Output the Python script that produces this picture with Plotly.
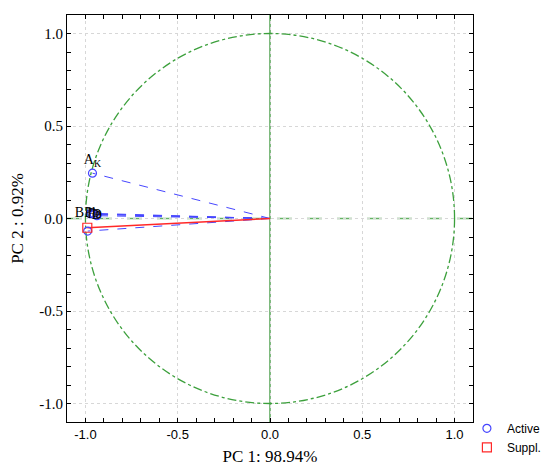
import plotly.graph_objects as go

# Active variables (PC1 loading, PC2 loading, label)
active_x = [-0.962, -0.975, -0.965, -0.952, -0.938, -0.988]
active_y = [0.245, 0.025, 0.028, 0.022, 0.015, -0.068]
active_labels = ["A<sub>K</sub>", "B", "Pb", "Fe", "D", None]
active_textpos = ["top center", "middle left", "middle center", "middle center",
                  "middle center", "top left"]

# Supplementary variables
suppl_x = [-0.99]
suppl_y = [-0.05]

tick_vals = [-1.0, -0.5, 0.0, 0.5, 1.0]
tick_text = ["-1.0", "-0.5", "0.0", "0.5", "1.0"]

x_title = "PC 1: 98.94%"
y_title = "PC 2 : 0.92%"

BLUE = "rgb(70,70,255)"
RED = "rgb(255,40,40)"
GREEN = "rgb(60,160,60)"


def segments(xs, ys):
    sx, sy = [], []
    for x, y in zip(xs, ys):
        sx += [0, x, None]
        sy += [0, y, None]
    return sx, sy


fig = go.Figure()

lx, ly = segments(active_x, active_y)
fig.add_trace(go.Scatter(x=lx, y=ly, mode="lines", showlegend=False,
                         line=dict(color=BLUE, width=1, dash="dash"),
                         hoverinfo="skip"))
lx, ly = segments(suppl_x, suppl_y)
fig.add_trace(go.Scatter(x=lx, y=ly, mode="lines", showlegend=False,
                         line=dict(color=RED, width=1.5),
                         hoverinfo="skip"))

fig.add_trace(go.Scatter(
    x=active_x, y=active_y, mode="markers+text", name="Active",
    text=active_labels, textposition=active_textpos,
    textfont=dict(family="Liberation Serif", size=14, color="black"),
    marker=dict(symbol="circle-open", size=8, color=BLUE, line=dict(width=1.2))))
fig.add_trace(go.Scatter(
    x=suppl_x, y=suppl_y, mode="markers", name="Suppl.",
    marker=dict(symbol="square-open", size=9, color=RED, line=dict(width=1.2))))

# unit circle and axes through origin
fig.add_shape(type="circle", xref="x", yref="y", x0=-1, y0=-1, x1=1, y1=1,
              line=dict(color=GREEN, width=1.3, dash="dashdot"), layer="between")
fig.add_shape(type="line", xref="x", yref="paper", x0=0, x1=0, y0=0, y1=1,
              line=dict(color="rgb(40,140,40)", width=1.2), layer="between")
fig.add_shape(type="line", xref="paper", yref="y", x0=0, x1=1, y0=0, y1=0,
              line=dict(color="rgb(100,180,100)", width=1.6, dash="longdash"), layer="between")

axis_common = dict(
    range=[-1.1, 1.1], tickmode="array", tickvals=tick_vals, ticktext=tick_text,
    ticks="inside", ticklen=4, tickwidth=1, tickcolor="black",
    showline=True, linecolor="black", linewidth=1, mirror="ticks",
    showgrid=True, gridcolor="rgb(215,215,215)", griddash="dot", gridwidth=1,
    zeroline=False, automargin=False,
    minor=dict(tickmode="linear", tick0=0, dtick=0.1, ticks="inside", ticklen=4,
               tickcolor="black", showgrid=False),
)

fig.update_xaxes(**axis_common,
                 tickfont=dict(family="Liberation Sans", size=13, color="black"),
                 title=dict(text=x_title, font=dict(family="Liberation Serif", size=17, color="black"),
                            standoff=13))
fig.update_yaxes(**axis_common,
                 tickfont=dict(family="Liberation Serif", size=15, color="black"),
                 title=dict(text=y_title, font=dict(family="Liberation Serif", size=17, color="black"),
                            standoff=17))

# page body adds an 8px margin, so the figure is sized to fit inside the window
fig.update_layout(
    width=534, height=458,
    margin=dict(l=59, r=69, t=7, b=44, autoexpand=False),
    plot_bgcolor="white", paper_bgcolor="white",
    legend=dict(x=0.985, y=0.02, xanchor="left", yanchor="top",
                font=dict(family="Liberation Sans", size=12, color="black"),
                bgcolor="rgba(0,0,0,0)", tracegroupgap=0, itemwidth=30),
)

fig.write_html("out.html")
